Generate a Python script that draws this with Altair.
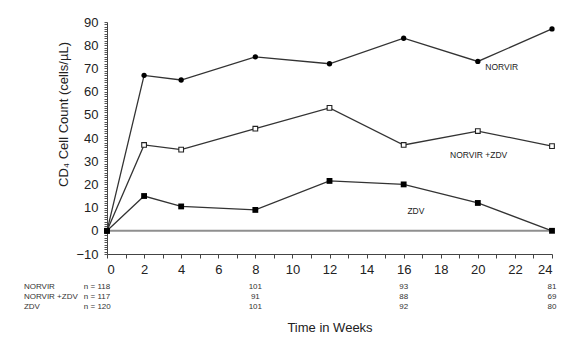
import altair as alt
import pandas as pd

# ---- data ----
weeks = [0, 2, 4, 8, 12, 16, 20, 24]
norvir = [0, 67, 65, 75, 72, 83, 73, 87]
norvir_zdv = [0, 37, 35, 44, 53, 37, 43, 36.5]
zdv = [0, 15, 10.5, 9, 21.5, 20, 12, 0]
series = ["NORVIR", "NORVIR +ZDV", "ZDV"]

n_weeks = [8, 16, 24]
n_norvir = [101, 93, 81]
n_norvir_zdv = [91, 88, 69]
n_zdv = [101, 92, 80]
n_baseline = [118, 117, 120]

# annotation anchors (weeks, cell count units)
label_week = [20.4, 18.5, 16.2]
label_value = [70.5, 32.5, 8.5]
row_value = [-24.3, -28.6, -32.9]
row_label_week = -4.48
row_n_week = -1.25

FONT = "Liberation Sans"

rows = []
for name, vals in zip(series, [norvir, norvir_zdv, zdv]):
    for w, v in zip(weeks, vals):
        rows.append({"week": w, "value": v, "series": name})
df = pd.DataFrame(rows)

x = alt.X("week:Q",
          scale=alt.Scale(domain=[0, 24], nice=False, zero=False),
          axis=alt.Axis(values=list(range(25)),
                        labelExpr="datum.value % 2 == 0 ? datum.label : ''",
                        labelOverlap=False, labelBound=False,
                        labelFontSize=13, labelPadding=5, tickSize=4,
                        labelColor="#222", tickColor="#444", domainColor="#444",
                        grid=False, title="Time in Weeks", titleFontSize=13,
                        titleFontWeight="normal", titleColor="#222",
                        titleY=73, titleBaseline="middle", labelFont=FONT,
                        titleFont=FONT))
y = alt.Y("value:Q",
          scale=alt.Scale(domain=[-10, 90], nice=False, zero=False),
          axis=alt.Axis(values=list(range(-10, 91)),
                        labelExpr="datum.value % 10 == 0 ? datum.label : ''",
                        labelOverlap=False, labelBound=False,
                        labelFontSize=13, labelPadding=6, tickSize=3,
                        labelColor="#222", tickColor="#555", domainColor="#444",
                        grid=False, title="CD\u2084 Cell Count (cells/\u00b5L)",
                        titleFontSize=13, titleFontWeight="normal",
                        titleColor="#222", titleX=-44, titleY=92,
                        titleAngle=-90, titleAlign="center",
                        titleBaseline="middle", labelFont=FONT, titleFont=FONT))

base = alt.Chart(df)

zero_line = alt.Chart(pd.DataFrame({"value": [0]})).mark_rule(
    color="#8f8f8f", strokeWidth=2).encode(
    y=y, x=alt.value(0), x2=alt.value(445))

lines = base.mark_line(color="#333", strokeWidth=1.3).encode(
    x=x, y=y, detail="series:N")

pts_norvir = base.transform_filter(alt.datum.series == "NORVIR").mark_point(
    shape="circle", filled=True, color="#000", size=28, opacity=1).encode(x=x, y=y)
pts_combo = base.transform_filter(alt.datum.series == "NORVIR +ZDV").mark_point(
    shape="square", filled=True, fill="white", stroke="#222", strokeWidth=1.1,
    size=22, opacity=1).encode(x=x, y=y)
pts_zdv = base.transform_filter(alt.datum.series == "ZDV").mark_point(
    shape="square", filled=True, color="#000", size=34, opacity=1).encode(x=x, y=y)

lab_df = pd.DataFrame({"week": label_week, "value": label_value, "text": series})
labels = alt.Chart(lab_df).mark_text(
    align="left", baseline="middle", fontSize=8.5, font=FONT, color="#222").encode(
    x=x, y=y, text="text:N")

# n table
tab_rows = []
for name, rv, base_n, counts in zip(series, row_value, n_baseline,
                                     [n_norvir, n_norvir_zdv, n_zdv]):
    tab_rows.append({"week": row_label_week, "value": rv, "text": name, "al": "l"})
    tab_rows.append({"week": row_n_week, "value": rv, "text": f"n = {base_n}", "al": "l"})
    for w, c in zip(n_weeks, counts):
        tab_rows.append({"week": w, "value": rv, "text": str(c), "al": "c"})
tab_df = pd.DataFrame(tab_rows)

tab_left = alt.Chart(tab_df).transform_filter(alt.datum.al == "l").mark_text(
    align="left", baseline="middle", fontSize=8, font=FONT, color="#333").encode(
    x=x, y=y, text="text:N")
tab_center = alt.Chart(tab_df).transform_filter(alt.datum.al == "c").mark_text(
    align="center", baseline="middle", fontSize=8, font=FONT, color="#333").encode(
    x=x, y=y, text="text:N")

chart = alt.layer(zero_line, lines, pts_combo, pts_norvir, pts_zdv, labels,
                  tab_left, tab_center).properties(
    width=445, height=232,
    autosize=alt.AutoSizeParams(type="none"),
    padding={"left": 99, "top": 14, "right": 28, "bottom": 94},
    background="white",
).configure_view(stroke=None)

chart.save("out.html", embed_options={"renderer": "svg", "actions": False})
